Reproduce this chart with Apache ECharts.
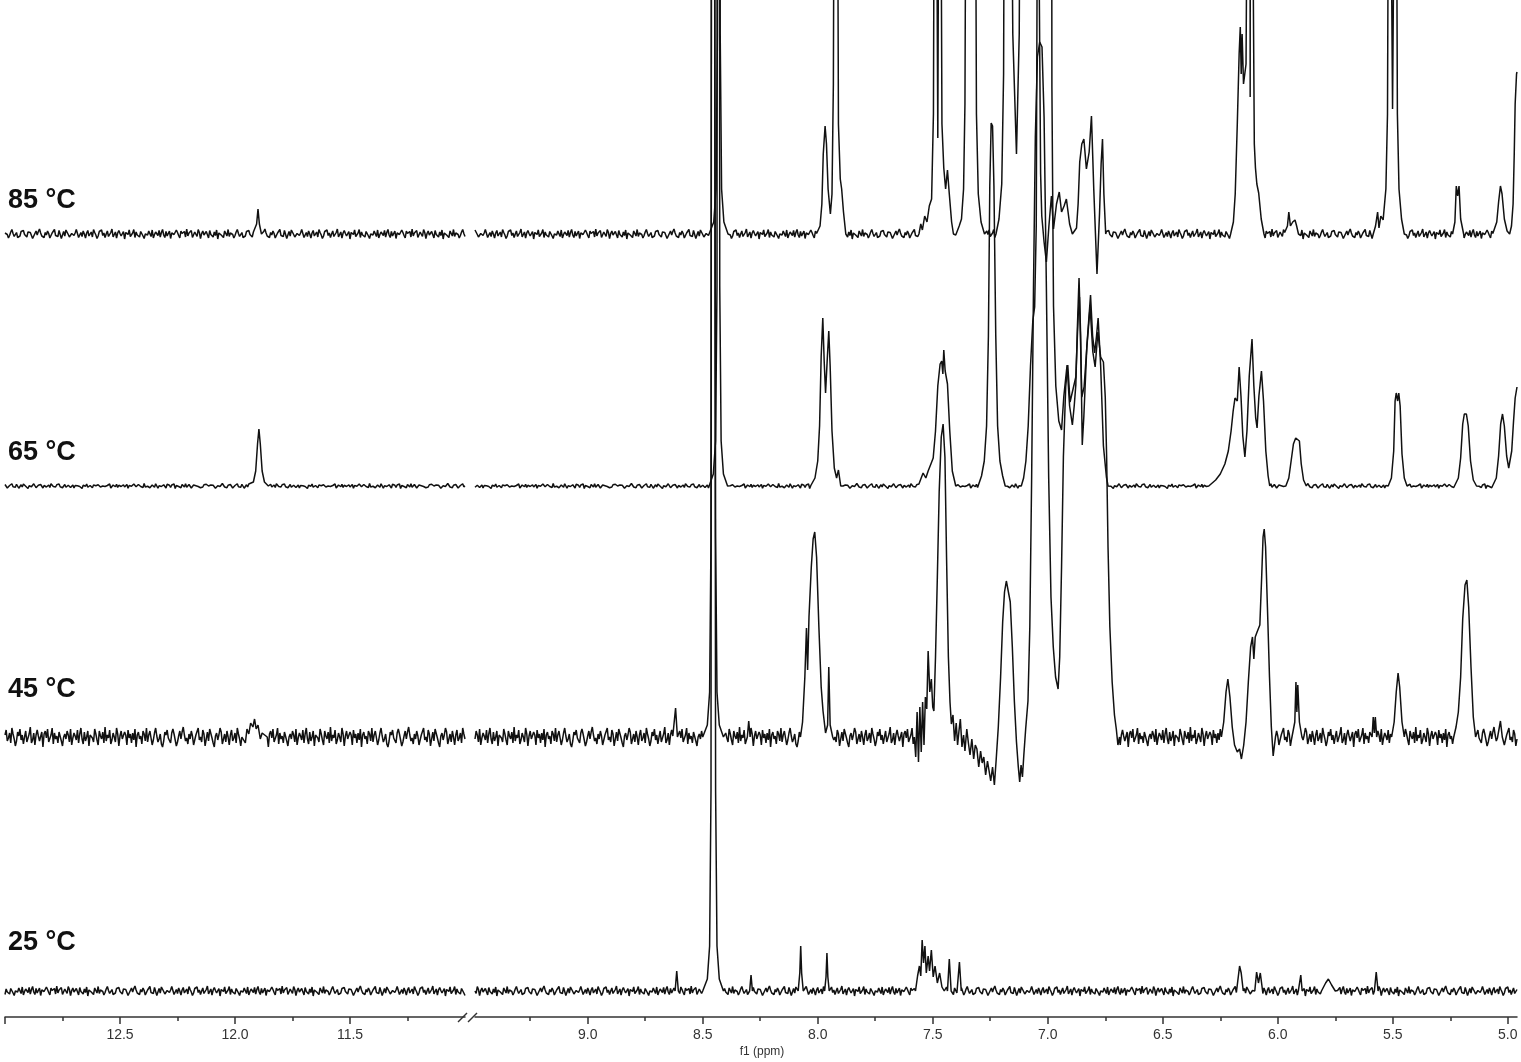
<!DOCTYPE html>
<html>
<head>
<meta charset="utf-8">
<script src="https://cdn.jsdelivr.net/npm/echarts@6/dist/echarts.min.js"></script>
<style>
html, body { margin: 0; padding: 0; background: #fff; }
#chart { width: 1521px; height: 1062px; }
</style>
</head>
<body>
<div id="chart"></div>
<script>
// ---- data (ppm, intensity above baseline) ----
const TRACES = ['85 °C', '65 °C', '45 °C', '25 °C'];
const NOISE_AMP = [5, 2.5, 10, 5];

const LEFT_TICKS = [13.0, 12.5, 12.0, 11.5];
const LEFT_MINOR = [12.75, 12.25, 11.75, 11.25];
const LEFT_LABELS = [12.5, 12.0, 11.5];
const RIGHT_TICKS = [9.0, 8.5, 8.0, 7.5, 7.0, 6.5, 6.0, 5.5, 5.0];
const RIGHT_MINOR = [9.25, 8.75, 8.25, 7.75, 7.25, 6.75, 6.25, 5.75, 5.25];
const RIGHT_LABELS = [9.0, 8.5, 8.0, 7.5, 7.0, 6.5, 6.0, 5.5, 5.0];

// baseline noise samples (typed, unitless)
const NOISE = [0.2,0.6,-0.1,-0.8,-0.3,0.4,0.9,0.1,-0.5,-0.2,0.3,-0.7,-1.0,-0.4,0.5,0.2,0.7,-0.1,0.0,-0.6,
  0.4,0.8,0.3,-0.3,-0.9,-0.5,0.1,0.6,-0.2,0.5,1.0,0.2,-0.4,-0.1,-0.7,0.3,-0.2,0.6,0.1,-0.8,
  -0.6,0.2,0.4,0.9,-0.3,0.0,-0.5,0.7,0.3,-0.9,-0.2,0.5,-0.4,0.8,0.6,-0.1,-0.6,-1.0,0.1,0.4,
  -0.3,0.2,0.9,0.5,-0.7,-0.2,0.3,-0.5,0.6,0.0,-0.8,0.2,0.7,-0.4,-0.1,0.4,-0.6,0.9,0.3,-0.2,
  -0.9,-0.4,0.5,0.1,0.8,-0.3,0.2,-0.7,0.0,0.6,-0.5,-0.1,0.3,1.0,-0.6,-0.3,0.4,-0.8,0.2,0.7,
  0.1,-0.4,-0.2,0.5,-1.0,0.3,0.6,-0.1,0.8,-0.5,-0.3,0.2,0.9,-0.7,0.4,-0.2,0.1,-0.6,0.5,0.7,
  -0.4,-0.9,0.0,0.3,-0.2,0.6,0.2,-0.5,0.8,-0.8,-0.1,0.4,0.1,-0.3,0.7,-0.6,0.3,0.9,-0.2,-0.7,
  0.5,-0.4,0.0,0.6,-0.9,0.2,0.4,-0.1,-0.5,0.8,0.3,-0.3,-0.8,0.6,0.1,-0.2,0.5,-0.6,1.0,-0.4,
  0.2,-0.1,0.7,-0.7,-0.3,0.4,0.0,-0.5,0.9,0.3,-0.9,0.1,0.6,-0.2,-0.4,0.5,0.2,-0.8,0.7,-0.1,
  0.3,-0.6,0.4,-0.3,0.8,-1.0,0.2,0.5,-0.2,0.1,-0.7,0.6,0.3,-0.4,0.9,-0.5];

// 85 °C
const P85_L = [
  [[11.915,0],[11.906,10],[11.9,25],[11.894,10],[11.885,0]]
];
const P85_R = [
  [[8.47,0],[8.452,12],[8.442,45],[8.436,200],[8.43,2500],[8.424,200],[8.418,45],[8.408,12],[8.39,0]],
  [[8.0,0],[7.99,8],[7.982,30],[7.976,80],[7.968,108],[7.962,90],[7.955,45],[7.945,20],[7.938,40],[7.932,150],[7.926,600],[7.922,2500],[7.917,600],[7.91,110],[7.902,55],[7.896,45],[7.888,22],[7.878,0]],
  [[7.56,0],[7.552,10],[7.545,4],[7.535,18],[7.525,12],[7.515,28],[7.505,35],[7.497,120],[7.492,500],[7.487,2500],[7.482,300],[7.478,96],[7.475,300],[7.47,2500],[7.465,400],[7.46,110],[7.452,66],[7.444,45],[7.436,64],[7.428,40],[7.418,12],[7.41,0]],
  [[7.395,0],[7.385,8],[7.375,15],[7.366,45],[7.36,130],[7.354,500],[7.348,2500],[7.322,2500],[7.316,500],[7.31,120],[7.302,40],[7.29,12],[7.275,0]],
  [[7.225,0],[7.212,15],[7.2,50],[7.192,160],[7.186,600],[7.178,2500],[7.165,600],[7.152,200],[7.136,80],[7.124,200],[7.116,600],[7.108,2500],[7.045,2500],[7.037,250],[7.031,60],[7.026,18],[7.016,-8],[7.006,-28],[6.995,8],[6.984,38],[6.975,5],[6.962,30],[6.95,42],[6.94,22],[6.929,28],[6.919,35],[6.905,10],[6.893,0],[6.875,6],[6.868,30],[6.861,72],[6.852,90],[6.843,95],[6.832,65],[6.82,82],[6.81,118],[6.8,45],[6.786,-40],[6.775,20],[6.768,70],[6.762,95],[6.756,40],[6.748,0]],
  [[6.205,0],[6.193,12],[6.185,40],[6.176,110],[6.168,180],[6.163,207],[6.159,160],[6.155,200],[6.149,150],[6.138,170],[6.132,400],[6.126,2500],[6.12,137],[6.114,2500],[6.108,300],[6.102,90],[6.097,66],[6.091,50],[6.083,41],[6.072,15],[6.06,0]],
  [[5.965,0],[5.958,8],[5.952,22],[5.945,8],[5.935,12],[5.925,14],[5.918,8],[5.91,0]],
  [[5.585,0],[5.575,8],[5.566,22],[5.56,6],[5.552,18],[5.542,14],[5.53,45],[5.523,120],[5.517,500],[5.512,2500],[5.505,250],[5.501,125],[5.497,250],[5.491,2500],[5.486,500],[5.48,120],[5.473,45],[5.462,15],[5.45,0]],
  [[5.24,0],[5.23,12],[5.224,48],[5.218,38],[5.212,48],[5.205,15],[5.192,0]],
  [[5.06,0],[5.048,12],[5.04,32],[5.032,48],[5.025,40],[5.015,15],[5.003,3],[4.992,0],[4.984,8],[4.977,30],[4.972,80],[4.968,130],[4.962,160],[4.96,162]]
];

// 65 °C
const P65_L = [
  [[11.935,0],[11.92,4],[11.91,15],[11.902,42],[11.896,57],[11.89,42],[11.882,15],[11.872,4],[11.855,0]]
];
const P65_R = [
  [[8.472,0],[8.454,12],[8.444,45],[8.438,200],[8.432,2500],[8.426,200],[8.42,45],[8.41,12],[8.392,0]],
  [[8.025,0],[8.012,8],[8.0,25],[7.992,60],[7.985,130],[7.978,168],[7.972,125],[7.966,93],[7.959,125],[7.952,155],[7.946,120],[7.938,55],[7.928,18],[7.918,8],[7.91,16],[7.9,0]],
  [[7.555,0],[7.542,13],[7.53,8],[7.52,15],[7.508,22],[7.498,28],[7.488,55],[7.478,100],[7.468,122],[7.461,125],[7.456,112],[7.452,136],[7.446,115],[7.436,102],[7.426,55],[7.415,15],[7.4,0]],
  [[7.3,0],[7.288,10],[7.276,25],[7.266,60],[7.258,150],[7.252,300],[7.246,363],[7.24,360],[7.234,300],[7.226,150],[7.218,60],[7.208,25],[7.196,10],[7.185,0]],
  [[7.115,0],[7.105,8],[7.095,25],[7.085,60],[7.075,120],[7.065,165],[7.057,179],[7.05,260],[7.045,600],[7.04,2500],[6.99,2500],[6.982,400],[6.975,180],[6.965,100],[6.952,65],[6.94,56],[6.93,90],[6.916,121],[6.905,80],[6.893,61],[6.885,80],[6.878,101],[6.871,160],[6.864,208],[6.857,150],[6.85,41],[6.843,70],[6.83,140],[6.814,191],[6.805,150],[6.796,133],[6.788,150],[6.781,168],[6.77,120],[6.758,40],[6.745,9],[6.738,0]],
  [[6.3,0],[6.27,6],[6.25,12],[6.23,22],[6.215,35],[6.203,55],[6.194,75],[6.186,88],[6.181,90],[6.176,85],[6.168,119],[6.16,90],[6.152,50],[6.143,29],[6.134,55],[6.124,110],[6.112,147],[6.104,100],[6.096,68],[6.09,58],[6.082,90],[6.071,115],[6.062,85],[6.052,35],[6.042,10],[6.035,0]],
  [[5.965,0],[5.952,8],[5.942,25],[5.932,42],[5.922,48],[5.914,46],[5.906,45],[5.898,22],[5.888,6],[5.876,0]],
  [[5.52,0],[5.506,8],[5.496,35],[5.49,85],[5.485,93],[5.479,85],[5.474,93],[5.468,80],[5.46,32],[5.45,8],[5.438,0]],
  [[5.23,0],[5.215,8],[5.205,28],[5.196,62],[5.189,72],[5.18,72],[5.172,60],[5.162,25],[5.15,6],[5.136,0]],
  [[5.065,0],[5.05,8],[5.04,30],[5.031,62],[5.023,72],[5.015,60],[5.005,30],[4.996,18],[4.99,16],[4.983,35],[4.975,65],[4.968,88],[4.96,99]]
];

// 45 °C
const P45_L = [
  [[11.97,0],[11.955,-6],[11.948,8],[11.94,3],[11.932,14],[11.922,10],[11.915,18],[11.908,8],[11.9,12],[11.89,-2],[11.882,4],[11.86,0]]
];
const P45_R = [
  [[8.626,0],[8.618,29],[8.61,0]],
  [[8.5,0],[8.48,12],[8.47,45],[8.464,200],[8.458,2500],[8.45,2500],[8.444,200],[8.438,45],[8.428,12],[8.41,0]],
  [[8.306,0],[8.3,16],[8.294,0]],
  [[8.075,0],[8.066,15],[8.056,60],[8.049,109],[8.044,67],[8.038,120],[8.028,170],[8.02,198],[8.013,205],[8.005,180],[7.995,110],[7.985,50],[7.977,26],[7.966,4],[7.957,12],[7.952,70],[7.946,12],[7.935,0]],
  [[7.58,0],[7.574,-20],[7.568,25],[7.562,-25],[7.556,30],[7.55,-15],[7.544,35],[7.538,-8],[7.532,40],[7.526,28],[7.52,86],[7.513,45],[7.506,58],[7.5,30],[7.495,26],[7.488,80],[7.48,160],[7.472,245],[7.463,300],[7.455,313],[7.447,280],[7.44,180],[7.432,80],[7.425,35],[7.419,13],[7.412,22],[7.405,-4],[7.398,14],[7.392,-8],[7.386,6],[7.38,18],[7.373,-10],[7.366,2],[7.36,-14],[7.352,8],[7.345,-6],[7.338,-18],[7.33,-2],[7.322,-22],[7.315,-8],[7.308,-12],[7.3,-30],[7.292,-14],[7.285,-26],[7.278,-20],[7.27,-38],[7.262,-24],[7.255,-34],[7.248,-44],[7.24,-30],[7.232,-48],[7.224,-22],[7.215,10],[7.205,60],[7.196,115],[7.188,145],[7.18,156],[7.172,154],[7.163,135],[7.154,90],[7.145,35],[7.136,-5],[7.128,-30],[7.122,-45],[7.116,-28],[7.11,-40],[7.104,-18],[7.096,8],[7.086,36],[7.078,110],[7.07,260],[7.062,450],[7.054,600],[7.045,680],[7.035,695],[7.025,690],[7.016,620],[7.006,450],[6.996,260],[6.986,140],[6.976,90],[6.966,60],[6.955,48],[6.948,80],[6.94,170],[6.932,280],[6.922,350],[6.913,372],[6.903,335],[6.893,345],[6.878,360],[6.868,420],[6.862,440],[6.852,340],[6.842,350],[6.83,390],[6.816,430],[6.804,385],[6.794,370],[6.782,405],[6.77,380],[6.758,375],[6.75,340],[6.744,280],[6.738,190],[6.73,110],[6.72,55],[6.71,22],[6.702,8],[6.695,-8],[6.688,0]],
  [[6.245,0],[6.235,15],[6.225,45],[6.217,58],[6.208,40],[6.198,10],[6.188,-8],[6.176,-15],[6.166,-12],[6.158,-22],[6.148,-8],[6.138,15],[6.128,55],[6.118,90],[6.11,100],[6.104,78],[6.098,100],[6.09,105],[6.078,112],[6.07,160],[6.064,200],[6.059,208],[6.053,190],[6.045,130],[6.036,60],[6.028,10],[6.02,-19],[6.01,0]],
  [[5.935,0],[5.926,15],[5.921,55],[5.917,25],[5.913,52],[5.906,15],[5.895,0]],
  [[5.59,0],[5.585,20],[5.58,4],[5.576,20],[5.57,0]],
  [[5.505,0],[5.494,15],[5.485,45],[5.477,64],[5.47,50],[5.46,15],[5.45,0]],
  [[5.235,0],[5.225,10],[5.215,25],[5.205,60],[5.196,118],[5.186,152],[5.178,157],[5.17,130],[5.16,70],[5.15,20],[5.14,0]],
  [[5.04,0],[5.032,16],[5.024,0]]
];

// 25 °C
const P25_L = [];
const P25_R = [
  [[8.62,0],[8.613,20],[8.606,0]],
  [[8.5,0],[8.48,12],[8.47,45],[8.464,200],[8.458,3000],[8.45,3000],[8.444,200],[8.438,45],[8.428,12],[8.41,0]],
  [[8.296,0],[8.29,16],[8.284,0]],
  [[8.085,0],[8.078,18],[8.074,45],[8.07,18],[8.063,0]],
  [[7.97,0],[7.964,14],[7.96,38],[7.956,14],[7.95,0]],
  [[7.575,0],[7.566,15],[7.558,25],[7.552,15],[7.546,51],[7.54,28],[7.534,45],[7.528,18],[7.52,35],[7.514,20],[7.506,41],[7.498,14],[7.49,25],[7.48,8],[7.47,18],[7.46,4],[7.45,0]],
  [[7.436,0],[7.428,32],[7.42,0]],
  [[7.392,0],[7.384,29],[7.376,0]],
  [[6.176,0],[6.166,25],[6.159,18],[6.15,0]],
  [[6.1,0],[6.092,19],[6.084,8],[6.076,18],[6.066,0]],
  [[5.906,0],[5.9,16],[5.894,0]],
  [[5.81,0],[5.792,8],[5.78,12],[5.766,6],[5.75,0]],
  [[5.58,0],[5.572,19],[5.564,0]]
];

// ---- layout ----
const LEFT_RANGE = [11.0, 13.0];
const RIGHT_RANGE = [4.96, 9.49];
const STEP = 0.005;
const BASE = [783, 531, 280, 26];      // baseline of each trace above the axis (px units)
const LABEL_Y = [201, 453, 690, 943];
const SHIFT = [0, 37, 71, 113];

// baseline samples with the peak groups dropped in where they sit
function buildSegment(groups, lo, hi, amp, shift, base) {
  const out = [];
  let g = 0;
  let blockEnd = null;
  const n = Math.round((hi - lo) / STEP);
  for (let i = 0; i <= n; i++) {
    const p = +(hi - i * STEP).toFixed(4);
    while (g < groups.length && groups[g][0][0] >= p) {
      groups[g].forEach(pt => out.push([pt[0], base + pt[1]]));
      blockEnd = groups[g][groups[g].length - 1][0];
      g++;
    }
    if (blockEnd !== null && p >= blockEnd) continue;
    out.push([p, base + NOISE[(i + shift) % NOISE.length] * amp]);
  }
  while (g < groups.length) {
    groups[g].forEach(pt => out.push([pt[0], base + pt[1]]));
    g++;
  }
  return out;
}

const LEFT_PEAKS = [P85_L, P65_L, P45_L, P25_L];
const RIGHT_PEAKS = [P85_R, P65_R, P45_R, P25_R];

const series = [];
TRACES.forEach((name, k) => {
  const style = { color: '#111', width: 1.5 };
  series.push({
    name: name + ' L', type: 'line', xAxisIndex: 0, yAxisIndex: 0,
    showSymbol: false, symbol: 'none', lineStyle: style, clip: true,
    data: buildSegment(LEFT_PEAKS[k], LEFT_RANGE[0], LEFT_RANGE[1], NOISE_AMP[k], SHIFT[k], BASE[k])
  });
  series.push({
    name: name + ' R', type: 'line', xAxisIndex: 2, yAxisIndex: 1,
    showSymbol: false, symbol: 'none', lineStyle: style, clip: true,
    data: buildSegment(RIGHT_PEAKS[k], RIGHT_RANGE[0], RIGHT_RANGE[1], NOISE_AMP[k], SHIFT[k] + 53, BASE[k])
  });
});

function mainAxis(grid, range, ticks, labels) {
  return {
    type: 'value', gridIndex: grid, min: range[0], max: range[1], inverse: true, position: 'bottom',
    axisLine: { show: true, onZero: false, lineStyle: { color: '#333', width: 1.5 } },
    axisTick: { show: true, length: 7, customValues: ticks, lineStyle: { color: '#333', width: 1.5 } },
    axisLabel: {
      show: true, customValues: labels, formatter: v => v.toFixed(1),
      fontSize: 14, color: '#333', margin: 11, fontFamily: 'Liberation Sans, Arial, sans-serif'
    },
    splitLine: { show: false }
  };
}
function minorAxis(grid, range, ticks) {
  return {
    type: 'value', gridIndex: grid, min: range[0], max: range[1], inverse: true, position: 'bottom',
    axisLine: { show: false, onZero: false },
    axisTick: { show: true, length: 4, customValues: ticks, lineStyle: { color: '#333', width: 1.5 } },
    axisLabel: { show: false },
    splitLine: { show: false }
  };
}

const chart = echarts.init(document.getElementById('chart'));
chart.setOption({
  animation: false,
  backgroundColor: '#fff',
  grid: [
    { left: 5, width: 460, top: 0, bottom: 45 },
    { left: 475, width: 1042, top: 0, bottom: 45 }
  ],
  xAxis: [
    mainAxis(0, LEFT_RANGE, LEFT_TICKS, LEFT_LABELS),
    minorAxis(0, LEFT_RANGE, LEFT_MINOR),
    mainAxis(1, RIGHT_RANGE, RIGHT_TICKS, RIGHT_LABELS),
    minorAxis(1, RIGHT_RANGE, RIGHT_MINOR)
  ],
  yAxis: [
    { type: 'value', gridIndex: 0, min: 0, max: 1017, show: false },
    { type: 'value', gridIndex: 1, min: 0, max: 1017, show: false }
  ],
  graphic: [
    ...TRACES.map((t, k) => ({
      type: 'text', x: 8, y: LABEL_Y[k],
      style: { text: t, font: 'bold 27px "Liberation Sans", Arial, sans-serif', fill: '#111', verticalAlign: 'middle' }
    })),
    { type: 'text', x: 762, y: 1052,
      style: { text: 'f1 (ppm)', font: '12px "Liberation Sans", Arial, sans-serif', fill: '#333', align: 'center', verticalAlign: 'middle' } },
    { type: 'rect', shape: { x: 462, y: 1012, width: 12, height: 10 }, style: { fill: '#fff' } },
    { type: 'line', shape: { x1: 458, y1: 1022, x2: 467, y2: 1013 }, style: { stroke: '#333', lineWidth: 1.4 } },
    { type: 'line', shape: { x1: 468, y1: 1022, x2: 477, y2: 1013 }, style: { stroke: '#333', lineWidth: 1.4 } }
  ],
  series: series
});
</script>
</body>
</html>
